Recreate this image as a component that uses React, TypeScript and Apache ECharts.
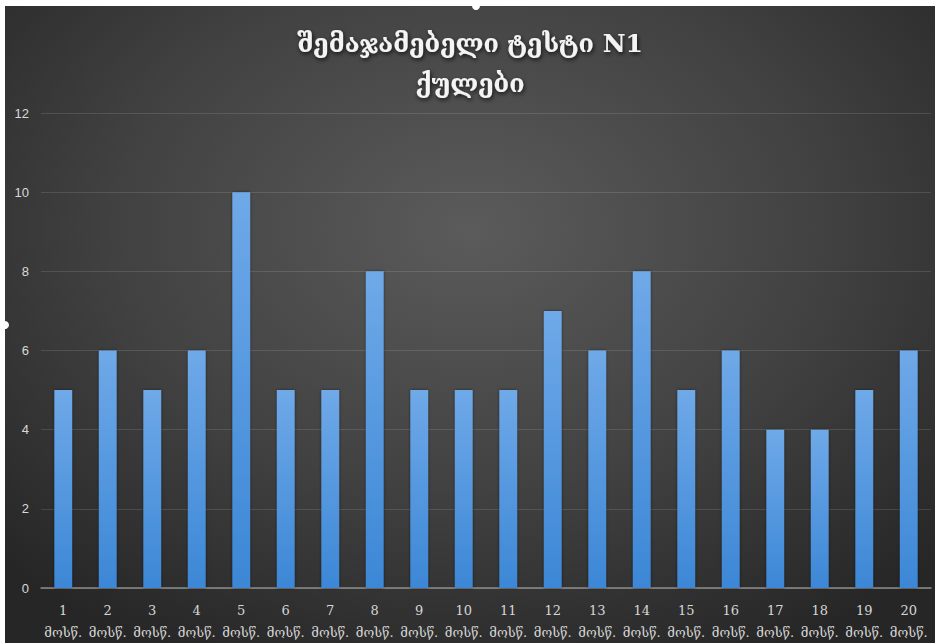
import React, { useEffect, useRef } from "react";
import * as echarts from "echarts";

const titleLines = ["შემაჯამებელი ტესტი N1", "ქულები"];
const studentNumbers = ["1","2","3","4","5","6","7","8","9","10","11","12","13","14","15","16","17","18","19","20"];
const studentSuffix = "მოსწ.";
const scores = [5, 6, 5, 6, 10, 5, 5, 8, 5, 5, 5, 7, 6, 8, 5, 6, 4, 4, 5, 6];
const yTicks = { min: 0, max: 12, interval: 2 };

export default function App() {
  const ref = useRef<HTMLDivElement>(null);
  useEffect(() => {
    if (!ref.current) return;
    const chart = echarts.init(ref.current, null, { renderer: "svg" });
    chart.setOption({
      animation: false,
      backgroundColor: "transparent",
      title: {
        text: titleLines.join("\n"),
        left: "center",
        top: 12,
        textStyle: {
          color: "#f4f4f4",
          fontFamily: "DejaVu Serif",
          fontSize: 25,
          fontWeight: "bold",
          lineHeight: 40,
          textShadowColor: "rgba(0,0,0,0.75)",
          textShadowBlur: 4,
          textShadowOffsetX: 1,
          textShadowOffsetY: 2,
        },
      },
      graphic: [
        { type: "circle", shape: { cx: 471, cy: 0, r: 4 }, style: { fill: "#ffffff" } },
        { type: "circle", shape: { cx: 0, cy: 319, r: 4 }, style: { fill: "#ffffff" } },
      ],
      grid: { left: 36, right: 4, top: 107, bottom: 53, containLabel: false },
      xAxis: {
        type: "category",
        data: studentNumbers,
        axisLine: { lineStyle: { color: "#8c8c8c", width: 1.5 } },
        axisTick: { show: false },
        axisLabel: {
          interval: 0,
          color: "#d6d6d6",
          fontSize: 13,
          fontFamily: "DejaVu Serif",
          lineHeight: 22,
          margin: 11,
          formatter: (v: string) => `${v}\n${studentSuffix}`,
        },
      },
      yAxis: {
        type: "value",
        min: yTicks.min,
        max: yTicks.max,
        interval: yTicks.interval,
        axisLine: { show: false },
        axisTick: { show: false },
        splitLine: { lineStyle: { color: "rgba(255,255,255,0.12)", width: 1 } },
        axisLabel: { color: "#d9d9d9", fontSize: 13, fontFamily: "Liberation Sans", margin: 12 },
      },
      series: [
        {
          type: "bar",
          data: scores,
          barWidth: "40%",
          itemStyle: {
            color: new echarts.graphic.LinearGradient(0, 0, 0, 1, [
              { offset: 0, color: "#6fa9e8" },
              { offset: 1, color: "#3c87d6" },
            ]),
            shadowColor: "rgba(0,0,0,0.5)",
            shadowBlur: 3,
          },
        },
      ],
    });
    return () => chart.dispose();
  }, []);
  return (
    <div style={{ position: "fixed", left: 0, top: 0, width: 938, height: 643, background: "#ffffff" }}>
      <div
        style={{
          position: "absolute",
          left: 5,
          top: 6,
          width: 930,
          height: 637,
          background: "radial-gradient(ellipse 70% 75% at 50% 35%, #5b5b5b 0%, #414141 55%, #262626 100%)",
        }}
      >
        <div ref={ref} style={{ width: 930, height: 637 }} />
      </div>
    </div>
  );
}
